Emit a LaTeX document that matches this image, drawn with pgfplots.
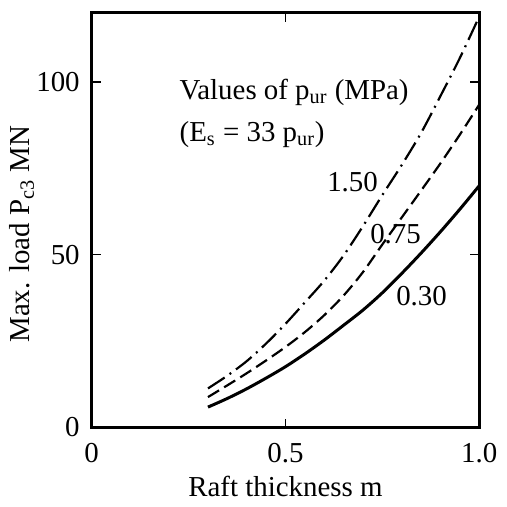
\documentclass[border=0pt]{standalone}
\usepackage{fontspec}
\setmainfont{Liberation Serif}
\usepackage{pgfplots}
\pgfplotsset{compat=1.18}
\begin{document}
\fontsize{14.5}{17}\selectfont
\begin{tikzpicture}
\begin{axis}[
  scale only axis,
  width=194.5pt, height=208pt,
  xmin=0, xmax=1, ymin=0, ymax=120,
  xtick={0,0.5,1}, xticklabels={0,0.5,1.0},
  ytick={0,50,100},
  tick align=inside,
  major tick length=4.5pt,
  axis line style={line width=1.5pt},
  every tick/.style={black, line width=0.6pt},
  /pgf/number format/assume math mode=true,
  xlabel={Raft thickness m},
  ylabel={Max. load P\textsubscript{c3} MN},
  xlabel style={at={(axis description cs:0.5,-0.142)}, anchor=center},
  ylabel style={at={(axis description cs:-0.18,0.466)}, anchor=center},
  xticklabel style={yshift=-3pt},
  yticklabel style={xshift=-1pt},
]
% p_ur = 0.30 MPa
\addplot[black, line width=1.5pt, smooth] coordinates {
  (0.30,5.9) (0.35,8.4) (0.40,11.2) (0.45,14.3) (0.50,17.6) (0.55,21.3)
  (0.60,25.3) (0.65,29.6) (0.70,34.0) (0.75,39.0) (0.80,44.6) (0.85,50.5)
  (0.90,56.7) (0.95,63.2) (1.00,70.0)};
% p_ur = 0.75 MPa
\addplot[black, line width=1.1pt, smooth, dash pattern=on 6.5pt off 3pt] coordinates {
  (0.30,8.8) (0.35,12.2) (0.40,15.7) (0.45,19.4) (0.50,23.3) (0.55,27.6)
  (0.60,32.5) (0.65,38.2) (0.70,45.0) (0.75,53.0) (0.80,60.8) (0.85,68.6)
  (0.90,76.5) (0.95,84.8) (1.00,93.5)};
% p_ur = 1.50 MPa
\addplot[black, line width=1.1pt, smooth, dash pattern=on 10pt off 3pt on 1pt off 3pt] coordinates {
  (0.30,11.3) (0.35,15.0) (0.40,19.2) (0.45,24.3) (0.50,30.0) (0.55,36.2)
  (0.60,42.5) (0.65,49.8) (0.70,58.3) (0.75,67.3) (0.80,76.0) (0.85,85.3)
  (0.90,96.0) (0.95,107.0) (1.00,119.0)};
\node[anchor=base west, inner sep=0pt] at (axis cs:0.226,94.9) {Values of p\textsubscript{ur} (MPa)};
\node[anchor=base west, inner sep=0pt] at (axis cs:0.226,82.8) {(E\textsubscript{s} = 33 p\textsubscript{ur})};
\node at (axis cs:0.673,71) {1.50};
\node at (axis cs:0.784,56) {0.75};
\node at (axis cs:0.851,38) {0.30};
\end{axis}
\path (current axis.south west) +(-46pt,-39pt) rectangle +(206pt,214.5pt);
\end{tikzpicture}
\end{document}
